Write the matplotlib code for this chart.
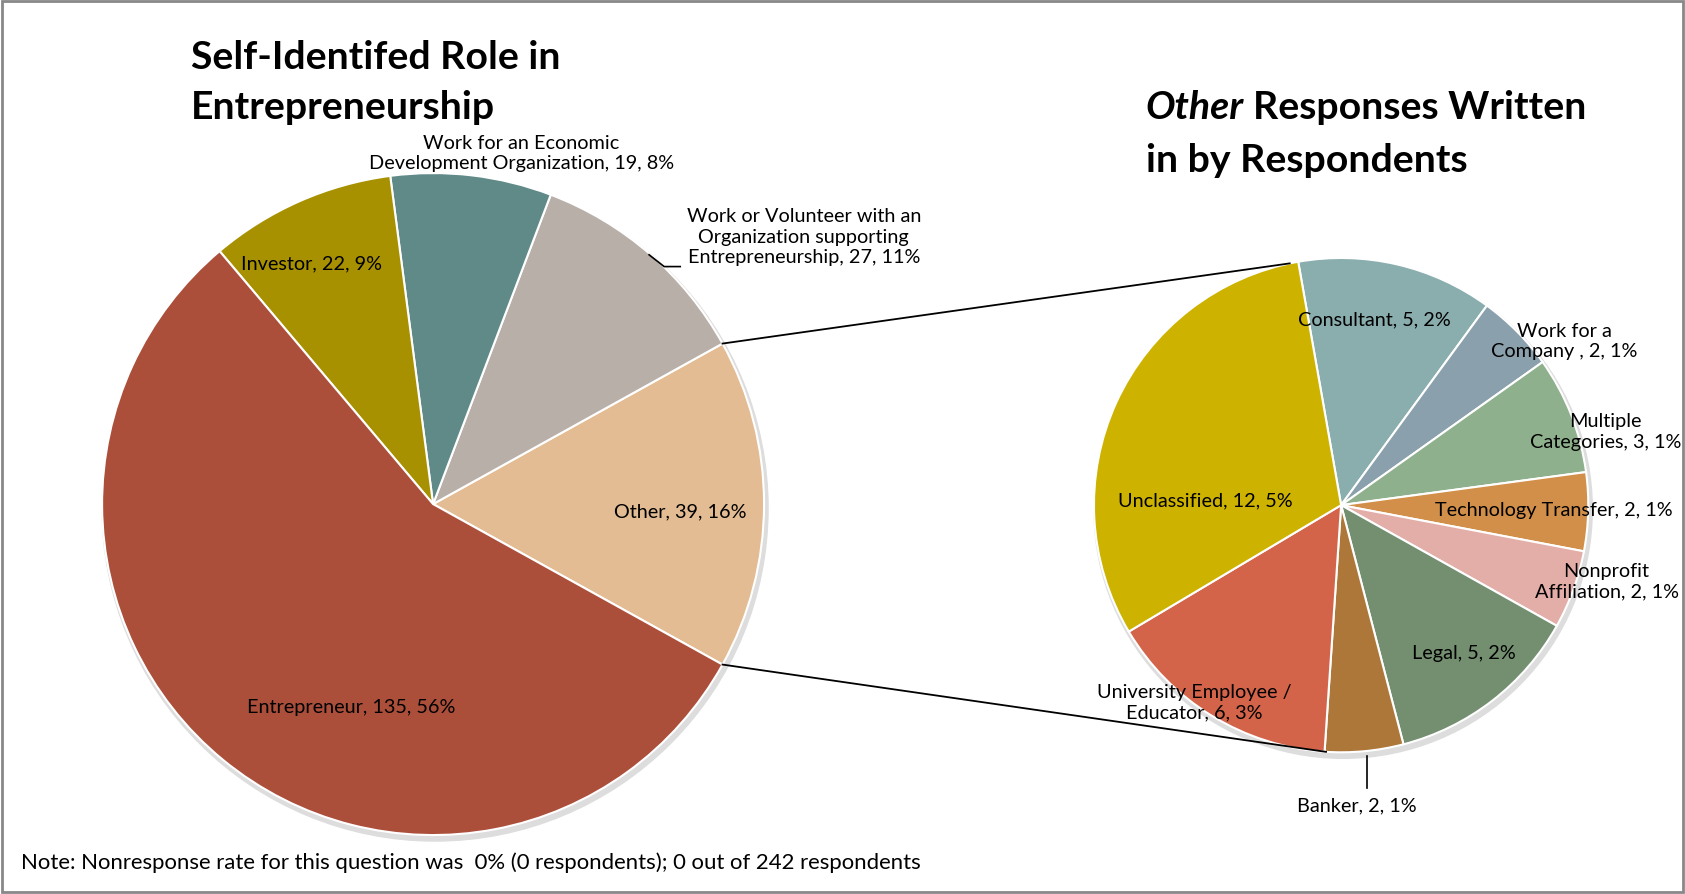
import numpy as np
import matplotlib.pyplot as plt
from matplotlib.patches import Circle, Rectangle

plt.rcParams['font.family'] = ['Lato', 'DejaVu Sans']

# main pie (counter-clockwise from the "Other" slice)
main_labels = ["Other", "Work or Volunteer with an\nOrganization supporting\nEntrepreneurship",
               "Work for an Economic\nDevelopment Organization", "Investor", "Entrepreneur"]
main_values = [39, 27, 19, 22, 135]
main_pcts = ["16%", "11%", "8%", "9%", "56%"]
main_colors = ["#E3BC93", "#B9AFA9", "#5F8A88", "#A89100", "#AB4F3B"]

# breakdown of "Other" (clockwise from the top)
other_labels = ["Consultant", "Work for a\nCompany ", "Multiple\nCategories", "Technology Transfer",
                "Nonprofit\nAffiliation", "Legal", "Banker", "University Employee /\nEducator",
                "Unclassified"]
other_values = [5, 2, 3, 2, 2, 5, 2, 6, 12]
other_pcts = ["2%", "1%", "1%", "1%", "1%", "2%", "1%", "3%", "5%"]
other_colors = ["#8AADAE", "#8AA0AC", "#8FB08C", "#D18F4A", "#E4AEA8",
                "#738F70", "#AE773A", "#D3644A", "#CDB300"]

W, H = 1685, 895
S = W / 1568.0

def px(x, y):
    # position measured on the 1568 wide preview -> data coords (y up)
    return x * S, H - y * S

fig = plt.figure(figsize=(W / 100, H / 100), dpi=100)
ax = fig.add_axes([0, 0, 1, 1])

c1 = px(403, 470)
r1 = 308 * S
c2 = px(1248, 471)
r2 = 230 * S

# soft shadows
for c, r in [(c1, r1), (c2, r2)]:
    ax.add_patch(Circle((c[0] + 2, c[1] - 4), r + 2, color="#dddddd", zorder=0))

half = main_values[0] / sum(main_values) * 180
ax.pie(main_values, colors=main_colors, startangle=-half, counterclock=True,
       center=c1, radius=r1, frame=True,
       wedgeprops=dict(edgecolor="white", linewidth=1.5))
ax.pie(other_values, colors=other_colors, startangle=100, counterclock=False,
       center=c2, radius=r2, frame=True,
       wedgeprops=dict(edgecolor="white", linewidth=1.5))
ax.set_xlim(0, W)
ax.set_ylim(0, H)
ax.set_aspect('equal')
ax.axis('off')

# connector lines between the two pies
for a1, a2 in [(half, 102), (-half, 266.5)]:
    p1 = (c1[0] + r1 * np.cos(np.radians(a1)), c1[1] + r1 * np.sin(np.radians(a1)))
    p2 = (c2[0] + r2 * np.cos(np.radians(a2)), c2[1] + r2 * np.sin(np.radians(a2)))
    ax.plot([p1[0], p2[0]], [p1[1], p2[1]], color="black", lw=1.3, zorder=1)

fs = 14.3
ls = 1.25
main_pos = [(633, 476), (748, 221), (485, 143), (290, 246), (327, 658)]
for lab, v, p, pos in zip(main_labels, main_values, main_pcts, main_pos):
    ax.text(*px(*pos), f"{lab}, {v}, {p}", ha="center", va="center", fontsize=fs,
            linespacing=ls, zorder=5)

other_pos = [(1279, 298), (1456, 318), (1494, 402), (1446, 475), (1495, 541),
             (1362, 608), (1263, 750), (1111, 654), (1122, 466)]
for lab, v, p, pos in zip(other_labels, other_values, other_pcts, other_pos):
    ax.text(*px(*pos), f"{lab}, {v}, {p}", ha="center", va="center", fontsize=fs,
            linespacing=ls, zorder=5)

# leader lines
xs, ys = zip(px(604, 238), px(618, 249), px(633, 249))
ax.plot(xs, ys, color="black", lw=1.2, zorder=5)
xs, ys = zip(px(1272, 704), px(1272, 734))
ax.plot(xs, ys, color="black", lw=1.2, zorder=5)

# titles
tfs = 28.3
ax.text(*px(178, 77), "Self-Identifed Role in\nEntrepreneurship", ha="left", va="center",
        fontsize=tfs, fontweight="bold", linespacing=1.5)
t = ax.text(*px(1066, 100), "Other", ha="left", va="center", fontsize=tfs,
            fontweight="bold", fontstyle="italic")
fig.canvas.draw()
bb = t.get_window_extent().transformed(ax.transData.inverted())
ax.text(bb.x1 + 9, px(1066, 100)[1], "Responses Written", ha="left", va="center",
        fontsize=tfs, fontweight="bold")
ax.text(*px(1066, 149), "in by Respondents", ha="left", va="center", fontsize=tfs,
        fontweight="bold")

ax.text(*px(20, 803), "Note: Nonresponse rate for this question was  0% (0 respondents); 0 out of 242 respondents",
        ha="left", va="center", fontsize=15.9)

fig.patches.append(Rectangle((0.001, 0.002), 0.998, 0.996, transform=fig.transFigure,
                             fill=False, edgecolor="#888888", lw=2))

fig.savefig("out.png", dpi=100)
